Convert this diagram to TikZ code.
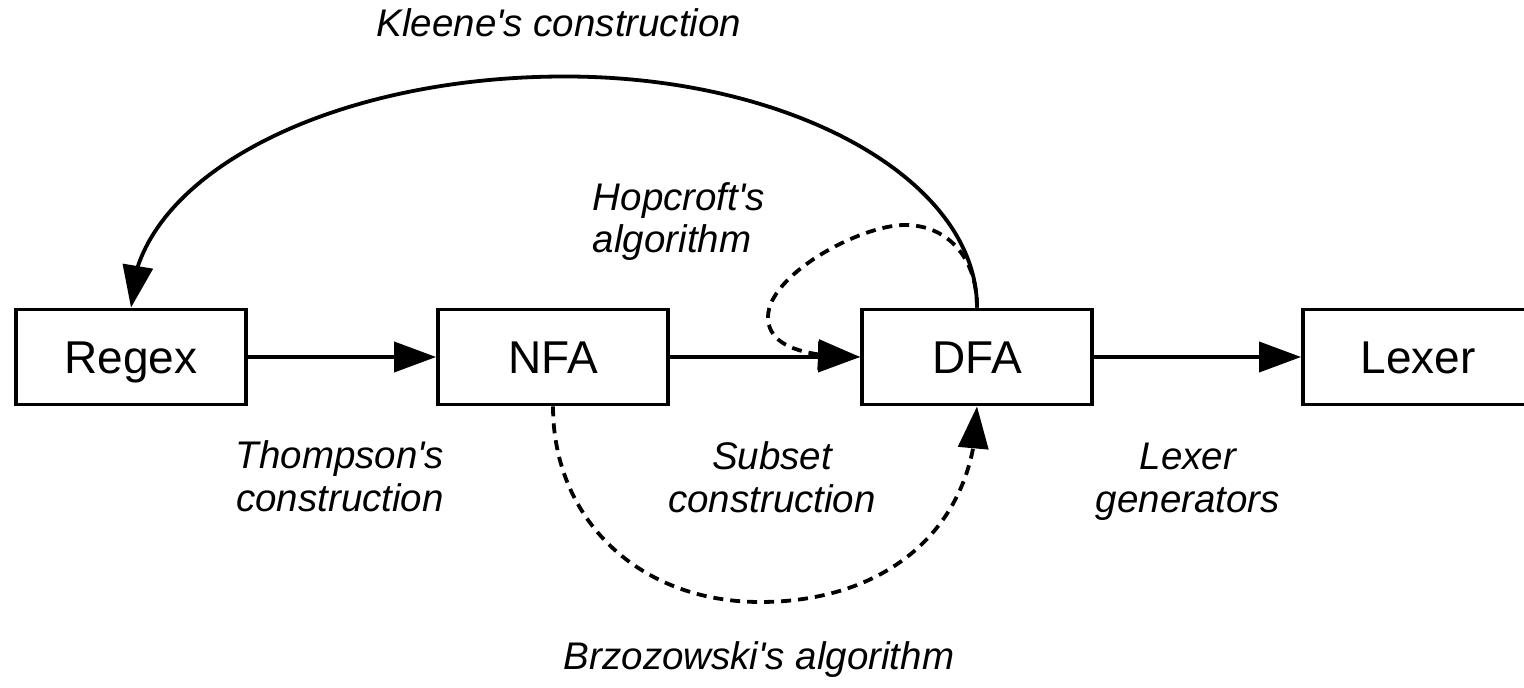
\documentclass[tikz,border=0pt]{standalone}
\usepackage{fontspec}
\setmainfont{Liberation Sans}
\usetikzlibrary{arrows.meta,bending}

\begin{document}
\begin{tikzpicture}[
  x=1pt, y=1pt,
  line width=3.8pt,
  box/.style={draw, rectangle, minimum width=230pt, minimum height=95pt,
    inner sep=0pt, text height=33pt, text depth=0pt,
    font=\fontsize{46}{52}\selectfont},
  lbl/.style={inner sep=0pt, align=center,
    font=\fontsize{38.5}{42.5}\selectfont\itshape},
  conn/.style={-{Triangle[length=42pt,width=30pt]}},
  dotted conn/.style={conn, dash pattern=on 10pt off 7pt},
]
  % canvas
  \fill[white] (0,0) rectangle (1524,688);
  \useasboundingbox (0,0) rectangle (1524,688);

  % pipeline stages
  \node[box] (regex) at (131,331) {Regex};
  \node[box] (nfa)   at (553,331) {NFA};
  \node[box] (dfa)   at (977,331) {DFA};
  \node[box] (lexer) at (1418,331) {Lexer};

  % control points of the curved connectors
  \coordinate (kleenetop) at (565,611.5);
  \coordinate (hoptop)    at (905,463);
  \coordinate (hopleft)   at (768,371);
  \coordinate (brzbottom) at (760,86);

  % straight transitions
  \draw[conn] (regex.east) -- (nfa.west);
  \draw[conn] (nfa.east) -- (dfa.west);
  \draw[conn] (dfa.east) -- (lexer.west);

  % Hopcroft's minimisation: loop on the DFA
  \draw[dotted conn] (dfa.north)
    .. controls +(0,53) and +(40,0) .. (hoptop)
    .. controls +(-45,0) and +(0,42) .. (hopleft)
    .. controls +(0,-28) and +(-60,0) .. (dfa.west);

  % Kleene's construction: DFA back to regex
  \draw[conn] (dfa.north)
    .. controls +(0,128) and +(227,0) .. (kleenetop)
    .. controls +(-240,0) and +(0,128) .. (regex.north);

  % Brzozowski's algorithm: NFA to DFA below
  \draw[dotted conn] (nfa.south)
    .. controls +(0,-114) and +(-120,0) .. (brzbottom)
    .. controls +(130,0) and +(0,-118) .. (dfa.south);

  % labels (base anchor = baseline of the last line)
  \node[lbl, anchor=base] (lkleene) at (559,651) {Kleene\textquotesingle s construction};
  \node[lbl, anchor=base west, align=left] (lhop) at (591,435) {Hopcroft\textquotesingle s\\algorithm};
  \node[lbl, anchor=base] (lthompson) at (340,176.5) {Thompson\textquotesingle s\\construction};
  \node[lbl, anchor=base] (lsubset) at (772,175.5) {Subset\\construction};
  \node[lbl, anchor=base] (llexgen) at (1188,175.5) {Lexer\\generators};
  \node[lbl, anchor=base] (lbrz) at (759,18) {Brzozowski\textquotesingle s algorithm};
\end{tikzpicture}
\end{document}
